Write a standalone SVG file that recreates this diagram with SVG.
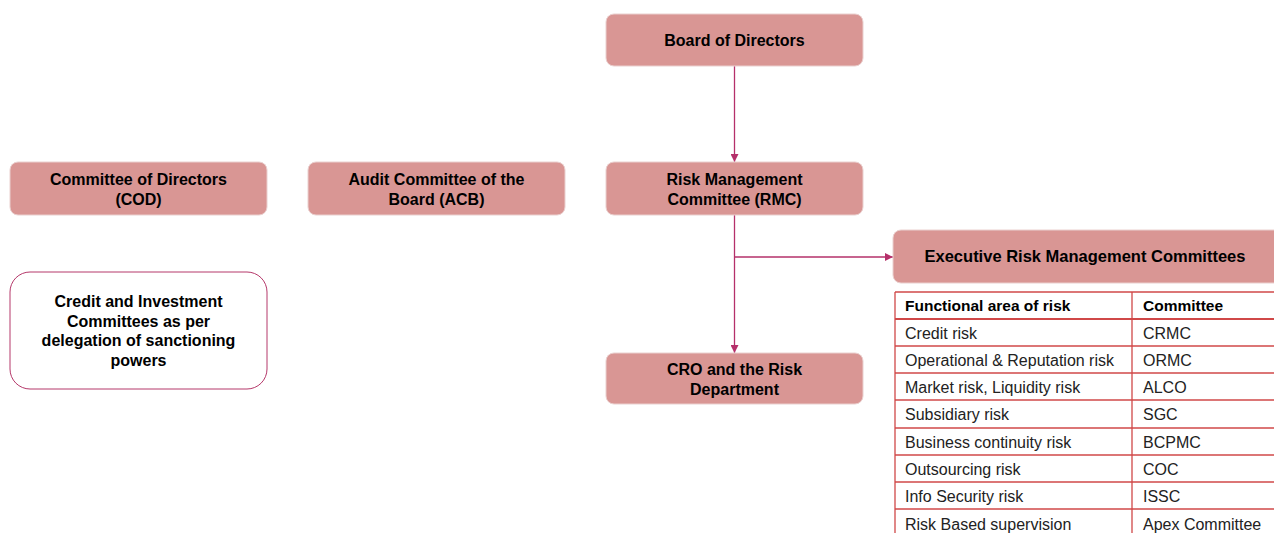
<svg xmlns="http://www.w3.org/2000/svg" width="1274" height="533" viewBox="0 0 1274 533">
<style>
.box{fill:#d99694;stroke:#ead0cf;stroke-width:1}
.wbox{fill:#ffffff;stroke:#b5386a;stroke-width:1}
.t{font-family:"Liberation Sans",Arial,sans-serif;font-size:16px;font-weight:bold;fill:#000;text-anchor:middle}
.tx{font-size:16.5px}
.c{stroke:#b5306a;stroke-width:1.3;fill:none}
.tl{stroke:#d04848;stroke-width:1.3;fill:none}
.tt{font-family:"Liberation Sans",Arial,sans-serif;font-size:16px;fill:#222}
.th{font-family:"Liberation Sans",Arial,sans-serif;font-size:15.5px;font-weight:bold;fill:#000}
</style>
<defs>
<marker id="ah" viewBox="0 0 10 10" refX="10" refY="5" markerWidth="8" markerHeight="8" markerUnits="userSpaceOnUse" orient="auto">
<path d="M0,0 L10,5 L0,10 z" fill="#b5306a"/>
</marker>
</defs>
<rect width="1274" height="533" fill="#ffffff"/>
<g id="connectors">
<line class="c" x1="734.5" y1="66" x2="734.5" y2="162" marker-end="url(#ah)"/>
<line class="c" x1="734.5" y1="215" x2="734.5" y2="353" marker-end="url(#ah)"/>
<line class="c" x1="734.5" y1="257" x2="893" y2="257" marker-end="url(#ah)"/>
</g>
<g id="board">
<rect class="box" x="606" y="14" width="257" height="52" rx="8"/>
<text class="t" x="734.5" y="46">Board of Directors</text>
</g>
<g id="cod">
<rect class="box" x="10" y="162" width="257" height="53" rx="8"/>
<text class="t" x="138.5" y="185">Committee of Directors</text>
<text class="t" x="138.5" y="205">(COD)</text>
</g>
<g id="acb">
<rect class="box" x="308" y="162" width="257" height="53" rx="8"/>
<text class="t" x="436.5" y="185">Audit Committee of the</text>
<text class="t" x="436.5" y="205">Board (ACB)</text>
</g>
<g id="rmc">
<rect class="box" x="606" y="162" width="257" height="53" rx="8"/>
<text class="t" x="734.5" y="185">Risk Management</text>
<text class="t" x="734.5" y="205">Committee (RMC)</text>
</g>
<g id="cro">
<rect class="box" x="606" y="353" width="257" height="51" rx="8"/>
<text class="t" x="734.5" y="375">CRO and the Risk</text>
<text class="t" x="734.5" y="395">Department</text>
</g>
<g id="credit">
<rect class="wbox" x="10" y="272" width="257" height="117" rx="20"/>
<text class="t" x="138.5" y="307">Credit and Investment</text>
<text class="t" x="138.5" y="327">Committees as per</text>
<text class="t" x="138.5" y="346">delegation of sanctioning</text>
<text class="t" x="138.5" y="366">powers</text>
</g>
<g id="exec">
<rect class="box" x="893" y="230" width="392" height="53" rx="8"/>
<text class="t tx" x="1085" y="262">Executive Risk Management Committees</text>
</g>
<g id="table">
<rect x="895" y="292" width="390" height="250" fill="#ffffff"/>
<line class="tl" x1="895" y1="292" x2="1274" y2="292"/>
<line class="tl" x1="895" y1="319" x2="1274" y2="319" style="stroke-width:2"/>
<line class="tl" x1="895" y1="346" x2="1274" y2="346"/>
<line class="tl" x1="895" y1="373" x2="1274" y2="373"/>
<line class="tl" x1="895" y1="400" x2="1274" y2="400"/>
<line class="tl" x1="895" y1="428" x2="1274" y2="428"/>
<line class="tl" x1="895" y1="455" x2="1274" y2="455"/>
<line class="tl" x1="895" y1="482" x2="1274" y2="482"/>
<line class="tl" x1="895" y1="509" x2="1274" y2="509"/>
<line class="tl" x1="895" y1="292" x2="895" y2="533"/>
<line class="tl" x1="1132" y1="292" x2="1132" y2="533"/>
<text class="th" x="905" y="311">Functional area of risk</text>
<text class="th" x="1143" y="311">Committee</text>
<text class="tt" x="905" y="338.5">Credit risk</text>
<text class="tt" x="1143" y="338.5">CRMC</text>
<text class="tt" x="905" y="365.5">Operational &amp; Reputation risk</text>
<text class="tt" x="1143" y="365.5">ORMC</text>
<text class="tt" x="905" y="392.5">Market risk, Liquidity risk</text>
<text class="tt" x="1143" y="392.5">ALCO</text>
<text class="tt" x="905" y="420">Subsidiary risk</text>
<text class="tt" x="1143" y="420">SGC</text>
<text class="tt" x="905" y="447.5">Business continuity risk</text>
<text class="tt" x="1143" y="447.5">BCPMC</text>
<text class="tt" x="905" y="474.5">Outsourcing risk</text>
<text class="tt" x="1143" y="474.5">COC</text>
<text class="tt" x="905" y="502">Info Security risk</text>
<text class="tt" x="1143" y="502">ISSC</text>
<text class="tt" x="905" y="529.5">Risk Based supervision</text>
<text class="tt" x="1143" y="529.5">Apex Committee</text>
</g>
</svg>
